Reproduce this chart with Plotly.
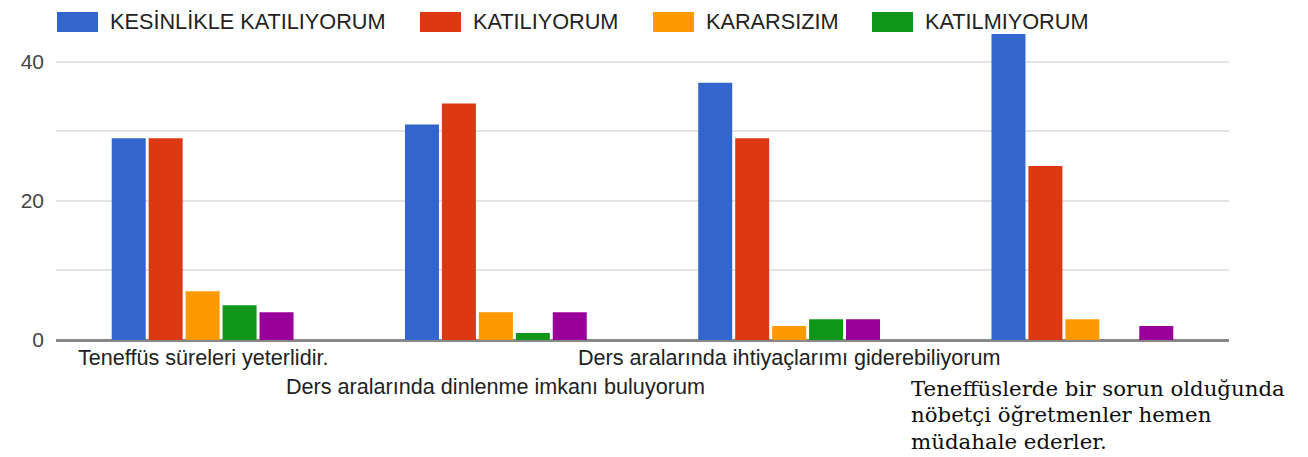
import plotly.graph_objects as go

categories = [
    "Teneffüs süreleri yeterlidir.",
    "Ders aralarında dinlenme imkanı buluyorum",
    "Ders aralarında ihtiyaçlarımı giderebiliyorum",
    "Teneffüslerde bir sorun olduğunda<br>nöbetçi öğretmenler hemen<br>müdahale ederler.",
]
series_names = ["KESİNLİKLE KATILIYORUM", "KATILIYORUM", "KARARSIZIM", "KATILMIYORUM",
                "KESİNLİKLE KATILMIYORUM"]
kesinlikle_katiliyorum = [29, 31, 37, 44]
katiliyorum = [29, 34, 29, 25]
kararsizim = [7, 4, 2, 3]
katilmiyorum = [5, 1, 3, 0]
kesinlikle_katilmiyorum = [4, 4, 3, 2]
colors = ["#3366cc", "#dc3912", "#ff9900", "#109618", "#990099"]
y_ticks = [0, 20, 40]

values = [kesinlikle_katiliyorum, katiliyorum, kararsizim, katilmiyorum, kesinlikle_katilmiyorum]

OFF = 8  # page body margin
W, H = 1308, 457
L, T = 56 - OFF, 27 - OFF
PW, PH = 1229 - 56, 340 - 27
R, B = W - L - PW, H - T - PH


def px(x):  # screen x -> paper
    return (x - OFF - L) / PW


def py(y):  # screen y -> paper
    return (T + PH - (y - OFF)) / PH


fig = go.Figure()
for name, vals, col in zip(series_names, values, colors):
    fig.add_trace(go.Bar(x=list(range(len(categories))), y=vals, name=name,
                         marker=dict(color=col, line=dict(width=0)), showlegend=False))

# custom legend (first four entries visible, as in the original)
leg_x = [57, 420, 653, 872]
for i in range(4):
    fig.add_shape(type="rect", xref="paper", yref="paper",
                  x0=px(leg_x[i]), x1=px(leg_x[i] + 41), y0=py(32), y1=py(12),
                  fillcolor=colors[i], line=dict(width=0))
    fig.add_annotation(xref="paper", yref="paper", x=px(leg_x[i] + 51), y=py(22),
                       text=series_names[i], showarrow=False, xanchor="left",
                       yanchor="middle",
                       font=dict(family="Liberation Sans, Arial", size=21.7, color="#222222"))

# category labels (staggered, last one in serif)
for i, cat in enumerate(categories):
    if i == 3:
        for j, line in enumerate(cat.split("<br>")):
            fig.add_annotation(x=i, y=0, xref="x", yref="paper", text=line, showarrow=False,
                               xanchor="left", yanchor="middle", xshift=-173,
                               yshift=-(48 + 26.5 * j),
                               font=dict(family="DejaVu Serif", size=21.3, color="#0d0d0d"))
    else:
        fig.add_annotation(x=i, y=0, xref="x", yref="paper", text=cat, showarrow=False,
                           xanchor="center", yanchor="top",
                           yshift=-3 if i % 2 == 0 else -32,
                           font=dict(family="Liberation Sans, Arial", size=21.6, color="#222222"))

fig.update_layout(
    width=W, height=H,
    margin=dict(l=L, r=R, t=T, b=B, pad=0),
    plot_bgcolor="white", paper_bgcolor="white",
    barmode="group", bargap=0.37, bargroupgap=0.08,
    showlegend=False,
    font=dict(family="Liberation Sans, Arial", color="#444444"),
    xaxis=dict(range=[-0.5, 3.5], showticklabels=False, showgrid=False, zeroline=False,
               showline=False, ticks=""),
    yaxis=dict(range=[0, 45], tickvals=y_ticks, ticktext=[str(v) for v in y_ticks],
               showgrid=True, gridcolor="#e3e3e3", gridwidth=2,
               minor=dict(dtick=10, showgrid=True, gridcolor="#e3e3e3", gridwidth=2),
               zeroline=True, zerolinecolor="#888888", zerolinewidth=3,
               showline=False, ticks="", ticklabelstandoff=11,
               tickfont=dict(size=21, color="#444444")),
)

fig.write_html("out.html")
